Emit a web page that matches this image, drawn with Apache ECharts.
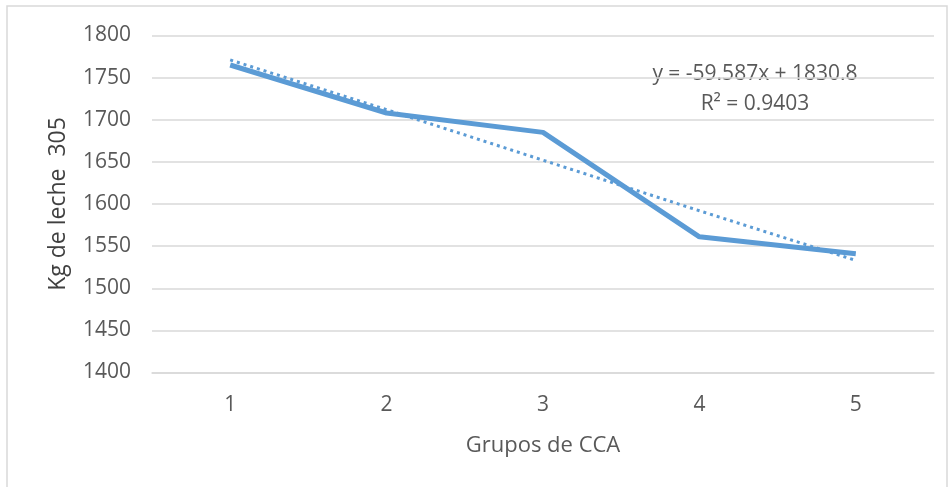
<!DOCTYPE html>
<html>
<head>
<meta charset="utf-8">
<script src="https://cdn.jsdelivr.net/npm/echarts@6/dist/echarts.min.js"></script>
<style>
  html, body { margin: 0; padding: 0; background: #fff; }
  #main { width: 950px; height: 487px; }
</style>
</head>
<body>
<div id="main"></div>
<script>
// datos
var grupos = ['1', '2', '3', '4', '5'];
var leche = [1765, 1708, 1685, 1561, 1541];
var tendencia = [1771, 1712, 1652, 1592, 1533];
var ecuacion = 'y = -59.587x + 1830.8';
var r2 = 'R\u00B2 = 0.9403';

var azul = '#5B9BD5';
var gris = '#595959';

var myChart = echarts.init(document.getElementById('main'));

var option = {
    animation: false,
    textStyle: { fontFamily: 'Open Sans' },
    grid: { left: 152, right: 16, top: 35.5, bottom: 114.5 },
    graphic: [
        {
            type: 'rect',
            shape: { x: 7, y: 6, width: 940, height: 490 },
            style: { fill: 'none', stroke: '#d9d9d9', lineWidth: 1.5 },
            silent: true
        },
        {
            type: 'text',
            x: 755, y: 74,
            style: { text: ecuacion, fill: gris, font: '21px "Open Sans"', align: 'center', verticalAlign: 'middle' }
        },
        {
            type: 'text',
            x: 755, y: 104,
            style: { text: r2, fill: gris, font: '21px "Open Sans"', align: 'center', verticalAlign: 'middle' }
        }
    ],
    xAxis: {
        type: 'category',
        data: grupos,
        boundaryGap: true,
        name: 'Grupos de CCA',
        nameLocation: 'middle',
        nameGap: 62,
        nameTextStyle: { color: gris, fontSize: 22 },
        axisLine: { lineStyle: { color: '#d9d9d9', width: 1.5 } },
        axisTick: { show: false },
        axisLabel: { color: gris, fontSize: 21, margin: 22 }
    },
    yAxis: {
        type: 'value',
        min: 1400,
        max: 1800,
        interval: 50,
        name: 'Kg de leche  305',
        nameLocation: 'middle',
        nameGap: 82,
        nameTextStyle: { color: '#404040', fontSize: 23, fontWeight: 500 },
        axisLine: { show: false },
        axisTick: { show: false },
        axisLabel: { color: gris, fontSize: 21, margin: 21, formatter: function (v) { return String(v); } },
        splitLine: { lineStyle: { color: '#d9d9d9', width: 1.5 } }
    },
    series: [
        {
            name: 'Kg de leche',
            type: 'line',
            data: leche,
            symbol: 'none',
            lineStyle: { color: azul, width: 5 },
            z: 3
        },
        {
            name: 'Lineal',
            type: 'line',
            data: tendencia,
            symbol: 'none',
            lineStyle: { color: azul, width: 3, type: [3, 4] },
            z: 2
        }
    ]
};

myChart.setOption(option);
</script>
</body>
</html>
